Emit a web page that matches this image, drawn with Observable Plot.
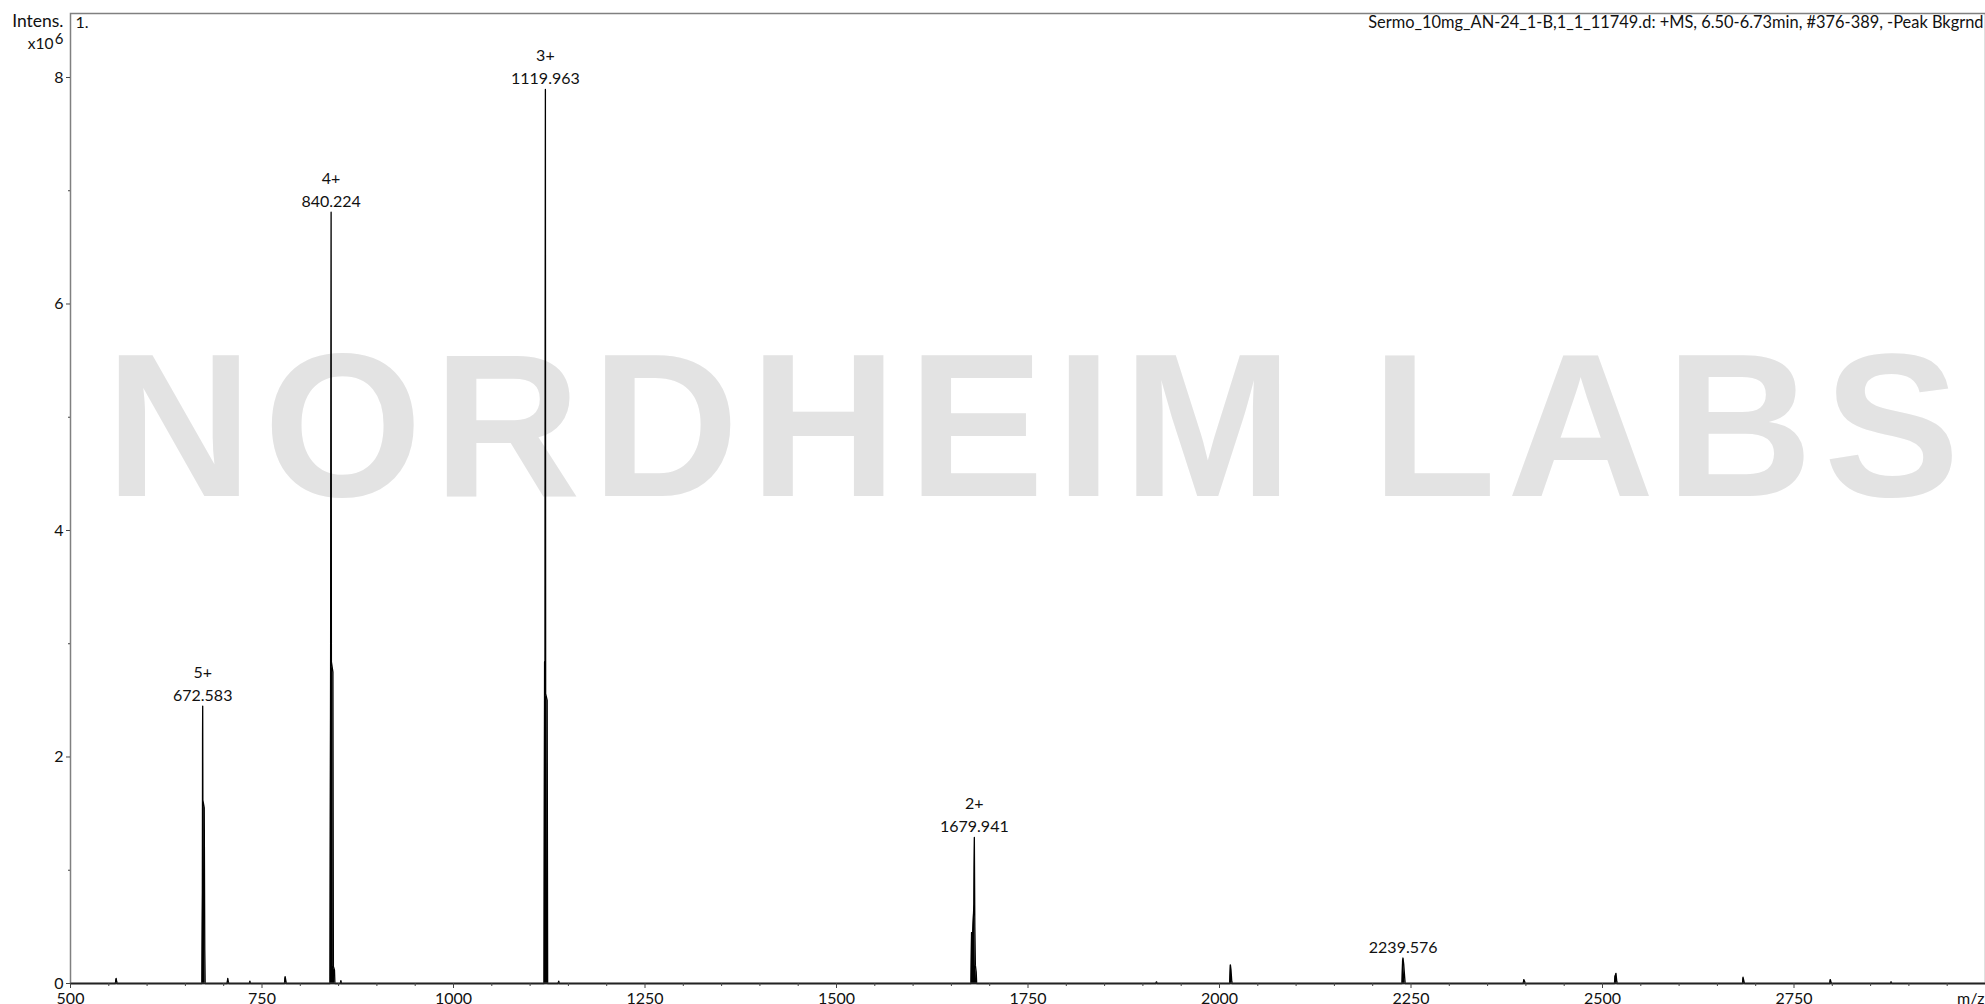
<!DOCTYPE html>
<html>
<head>
<meta charset="utf-8">
<script src="https://cdn.jsdelivr.net/npm/d3@7"></script>
<script src="https://cdn.jsdelivr.net/npm/@observablehq/plot@0.6"></script>
<style>
html,body{margin:0;padding:0;background:#fff;overflow:hidden}
#chart svg{display:block}
</style>
</head>
<body>
<div id="chart"></div>
<script>
// ---- spectrum profile (m/z, intensity x10^6) ----
const spectrumMz = [
  500, 558.5, 559.6, 560.2, 561,
  671.6, 672.2, 672.4, 672.583, 672.8, 674.6, 675.3, 675.8,
  704.5, 705.3, 706.2, 706.8,
  733.5, 734.2, 735,
  779.3, 780.2, 781, 781.8,
  838.8, 839.6, 840.224, 840.6, 842.6, 843.2, 844.6, 845.2,
  852.3, 853, 853.8,
  1118.2, 1118.9, 1119.6, 1119.963, 1120.3, 1122.3, 1122.9,
  1136.6, 1137.4, 1138.2,
  1675.6, 1676.3, 1677.8, 1679.4, 1679.941, 1680.6, 1681.3, 1682.4, 1683,
  1917, 1917.8, 1918.6,
  2013.3, 2014.2, 2015, 2016, 2016.6,
  2238.3, 2239.0, 2239.576, 2240.5, 2241.8, 2242.4,
  2396.5, 2397.3, 2398.3, 2399,
  2515.6, 2516.3, 2517.6, 2518.6, 2519.2,
  2682.8, 2683.5, 2685, 2685.6,
  2796.7, 2797.4, 2798.4, 2799,
  2876, 2876.8, 2877.6,
  3000
];
const spectrumIntensity = [
  0, 0, 0.045, 0.02, 0,
  0, 0.8, 2.2, 2.45, 1.62, 1.55, 0.3, 0,
  0, 0.045, 0.01, 0,
  0, 0.02, 0,
  0, 0.06, 0.03, 0,
  0, 3.0, 6.81, 2.84, 2.75, 0.15, 0.12, 0,
  0, 0.025, 0,
  0, 2.84, 2.84, 7.895, 2.56, 2.5, 0,
  0, 0.02, 0,
  0, 0.45, 0.45, 0.7, 1.29, 0.5, 0.16, 0.1, 0,
  0, 0.015, 0,
  0, 0.165, 0.12, 0.02, 0,
  0, 0.2, 0.225, 0.17, 0.05, 0,
  0, 0.035, 0.02, 0,
  0, 0.06, 0.09, 0.02, 0,
  0, 0.055, 0.01, 0,
  0, 0.035, 0.01, 0,
  0, 0.015, 0,
  0
];

// ---- annotated peaks ----
const peakMz = [672.583, 840.224, 1119.963, 1679.941, 2239.8];
const peakIntensity = [2.45, 6.81, 7.895, 1.29, 0.225];
const peakCharge = ["5+", "4+", "3+", "2+", ""];
const peakLabel = ["672.583", "840.224", "1119.963", "1679.941", "2239.576"];

// ---- axes ----
const xMajorTicks = [500, 750, 1000, 1250, 1500, 1750, 2000, 2250, 2500, 2750];
const xMinorTicks = d3.range(500, 3001, 50).filter(v => !xMajorTicks.includes(v));
const yMajorTicks = [0, 2, 4, 6, 8];
const yMinorTicks = [1, 3, 5, 7];
const xDomain = [500, 3000];
const yDomain = [0, 8.565];

// ---- texts ----
const yTitle = "Intens.";
const yExponentBase = "x10";
const yExponent = "6";
const xTitle = "m/z";
const traceNumber = "1.";
const headerText = "Sermo_10mg_AN-24_1-B,1_1_11749.d: +MS, 6.50-6.73min, #376-389, -Peak Bkgrnd";
const watermarkText = "NORDHEIM LABS";
const watermarkPos = {mz: 1763, intensity: 4.877};

const spectrum = spectrumMz.map((mz, i) => ({mz, intensity: spectrumIntensity[i]}));
const peaks = peakMz.map((mz, i) => ({
  mz, intensity: peakIntensity[i],
  text: peakCharge[i] ? peakCharge[i] + "\n" + peakLabel[i] : peakLabel[i]
}));

const chart = Plot.plot({
  width: 1985,
  height: 1004,
  marginLeft: 70,
  marginRight: 0,
  marginTop: 13,
  marginBottom: 21,
  style: {fontFamily: "Lato, 'Open Sans', sans-serif", fontSize: "16px", color: "#111", background: "#fff", overflow: "visible"},
  x: {domain: xDomain},
  y: {domain: yDomain},
  marks: [
    Plot.text([watermarkPos], {
      x: "mz", y: "intensity", text: () => watermarkText,
      fontFamily: "'Liberation Sans', Arial, sans-serif", fontWeight: "bold", fontSize: 204,
      fill: "#e3e3e3", textAnchor: "middle", lineAnchor: "middle"
    }),
    Plot.areaY(spectrum, {x: "mz", y: "intensity", fill: "#000", curve: "linear"}),
    Plot.lineY(spectrum, {x: "mz", y: "intensity", stroke: "#000", strokeWidth: 1.3, curve: "linear"}),
    Plot.frame({stroke: "#808080", strokeWidth: 1.5}),
    Plot.ruleY([0], {stroke: "#222", strokeWidth: 1.5}),
    Plot.axisX({ticks: xMajorTicks, tickSize: 5, tickPadding: 4, fontSize: 16, label: null, tickFormat: d3.format("d"), stroke: "#444"}),
    Plot.axisX({ticks: xMinorTicks, tickSize: 3, label: null, tickFormat: () => "", stroke: "#444"}),
    Plot.axisY({ticks: yMajorTicks, tickSize: 4, tickPadding: 3, fontSize: 16, label: null, tickFormat: d3.format("d"), stroke: "#444"}),
    Plot.axisY({ticks: yMinorTicks, tickSize: 2, label: null, tickFormat: () => "", stroke: "#444"}),
    Plot.text(peaks, {
      x: "mz", y: "intensity", text: "text", textAnchor: "middle", lineAnchor: "bottom",
      dy: -5, fontSize: 16, lineHeight: 1.46, fill: "#111"
    }),
    Plot.text([yTitle], {frameAnchor: "top-left", textAnchor: "end", lineAnchor: "bottom", dx: -7, dy: 13, fontSize: 17.5, fill: "#111"}),
    Plot.text([yExponentBase], {frameAnchor: "top-left", textAnchor: "end", lineAnchor: "bottom", dx: -17, dy: 35, fontSize: 15.5, fill: "#111"}),
    Plot.text([yExponent], {frameAnchor: "top-left", textAnchor: "end", lineAnchor: "bottom", dx: -7, dy: 30, fontSize: 15, fill: "#111"}),
    Plot.text([traceNumber], {frameAnchor: "top-left", textAnchor: "start", lineAnchor: "bottom", dx: 5, dy: 14, fontSize: 16, fill: "#111"}),
    Plot.text([headerText], {frameAnchor: "top-right", textAnchor: "end", lineAnchor: "bottom", dx: -2, dy: 14, fontSize: 16.4, fill: "#111"}),
    Plot.text([xTitle], {frameAnchor: "bottom-right", textAnchor: "end", lineAnchor: "bottom", dx: -1, dy: 20, fontSize: 16, fill: "#111"})
  ]
});

d3.select(chart).selectAll("text").filter(function() { return this.textContent === watermarkText; })
  .attr("letter-spacing", "11px");

document.getElementById("chart").appendChild(chart);
</script>
</body>
</html>
